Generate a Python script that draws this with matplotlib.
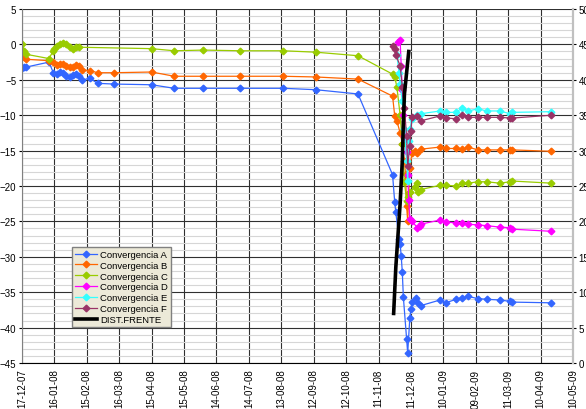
import matplotlib
matplotlib.use('Agg')
import matplotlib.pyplot as plt
from matplotlib.ticker import MultipleLocator
import pandas as pd

plt.rcParams['font.family'] = ['Liberation Sans', 'DejaVu Sans']

# lecturas hasta octubre 2008 (A y B comparten fechas)
early_dates = ['2007-12-17', '2007-12-19', '2007-12-21', '2008-01-11', '2008-01-15',
               '2008-01-18', '2008-01-21', '2008-01-24', '2008-01-27', '2008-01-30',
               '2008-02-02', '2008-02-05', '2008-02-08', '2008-02-11', '2008-02-18',
               '2008-02-25', '2008-03-11', '2008-04-15', '2008-05-06', '2008-06-02',
               '2008-07-06', '2008-08-15', '2008-09-14', '2008-10-23']
early_a = [-3.3, -3.2, -3.2, -2.5, -4.0, -4.2, -3.9, -4.0, -4.4, -4.6, -4.3, -4.2,
           -4.4, -5.0, -4.8, -5.5, -5.6, -5.7, -6.2, -6.2, -6.2, -6.2, -6.4, -7.0]
early_b = [-1.1, -1.8, -2.1, -2.3, -2.5, -2.9, -2.8, -2.8, -3.0, -3.2, -3.2, -2.9,
           -3.1, -3.6, -3.7, -4.0, -4.0, -3.9, -4.5, -4.5, -4.5, -4.5, -4.6, -4.9]

early_dates_c = ['2007-12-17', '2007-12-19', '2007-12-21', '2008-01-11', '2008-01-15',
                 '2008-01-16', '2008-01-18', '2008-01-21', '2008-01-24', '2008-01-27',
                 '2008-01-30', '2008-02-02', '2008-02-05', '2008-02-08', '2008-04-15',
                 '2008-05-06', '2008-06-02', '2008-07-06', '2008-08-15', '2008-09-14',
                 '2008-10-23']
early_c = [0.0, -0.9, -1.4, -2.0, -0.9, -0.6, -0.2, 0.1, 0.2, 0.0, -0.4, -0.7,
           -0.4, -0.4, -0.6, -0.9, -0.8, -0.9, -0.9, -1.1, -1.6]

# paso del frente (nov-dic 2008)
mid_dates_a = ['2008-11-24', '2008-11-26', '2008-11-27', '2008-11-30', '2008-12-01',
               '2008-12-02', '2008-12-03', '2008-12-04', '2008-12-07', '2008-12-08',
               '2008-12-10', '2008-12-11', '2008-12-12', '2008-12-16', '2008-12-18',
               '2008-12-20']
mid_a = [-18.4, -22.3, -23.7, -27.5, -28.2, -29.9, -32.1, -35.7, -41.6, -43.6,
         -38.6, -37.4, -36.4, -35.8, -36.5, -36.9]

mid_dates_b = ['2008-11-24', '2008-11-26', '2008-11-28', '2008-12-01', '2008-12-03',
               '2008-12-05', '2008-12-06', '2008-12-07', '2008-12-08', '2008-12-09',
               '2008-12-10', '2008-12-12', '2008-12-15', '2008-12-17', '2008-12-20']
mid_b = [-7.3, -10.1, -10.8, -12.5, -14.0, -16.5, -18.3, -22.8, -25.0, -21.0,
         -17.5, -15.3, -15.1, -15.3, -14.8]

mid_dates_c = ['2008-11-24', '2008-11-26', '2008-11-28', '2008-12-01', '2008-12-03',
               '2008-12-05', '2008-12-07', '2008-12-08', '2008-12-10', '2008-12-15',
               '2008-12-17', '2008-12-18', '2008-12-20']
mid_c = [-4.2, -4.6, -6.0, -10.0, -14.0, -19.5, -22.1, -21.5, -20.8, -20.2,
         -19.6, -20.9, -20.5]

mid_dates_d = ['2008-11-29', '2008-12-01', '2008-12-02', '2008-12-03', '2008-12-04',
               '2008-12-05', '2008-12-07', '2008-12-08', '2008-12-09', '2008-12-10',
               '2008-12-12', '2008-12-17', '2008-12-19', '2008-12-20']
mid_d = [0.3, 0.6, -3.0, -6.5, -10.0, -13.0, -15.2, -18.4, -22.0, -24.7,
         -25.0, -25.9, -25.6, -25.4]

mid_dates_e = ['2008-11-28', '2008-11-30', '2008-12-01', '2008-12-03', '2008-12-05',
               '2008-12-07', '2008-12-08', '2008-12-09', '2008-12-10', '2008-12-12',
               '2008-12-17', '2008-12-20']
mid_e = [-1.5, -4.0, -5.6, -8.0, -12.0, -16.5, -19.3, -13.6, -12.0, -10.5,
         -10.0, -9.8]

mid_dates_f = ['2008-11-24', '2008-11-26', '2008-11-27', '2008-12-01', '2008-12-03',
               '2008-12-05', '2008-12-07', '2008-12-08', '2008-12-10', '2008-12-11',
               '2008-12-12', '2008-12-17', '2008-12-20']
mid_f = [-0.2, -0.7, -1.5, -3.0, -6.0, -9.0, -13.0, -17.2, -14.3, -12.2,
         -10.3, -10.1, -10.8]

# lecturas 2009 (todas las secciones)
late_dates = ['2009-01-07', '2009-01-12', '2009-01-22', '2009-01-27', '2009-02-02',
              '2009-02-11', '2009-02-19', '2009-03-03', '2009-03-13', '2009-03-15',
              '2009-04-20']
late_a = [-36.1, -36.5, -36.0, -35.8, -35.6, -35.9, -36.0, -36.1, -36.3, -36.4, -36.5]
late_b = [-14.5, -14.7, -14.7, -14.8, -14.5, -14.9, -14.9, -14.9, -14.9, -14.9, -15.1]
late_c = [-19.9, -19.9, -20.0, -19.6, -19.6, -19.4, -19.4, -19.6, -19.4, -19.3, -19.6]
late_d = [-24.8, -25.1, -25.2, -25.2, -25.4, -25.5, -25.6, -25.8, -25.9, -26.1, -26.4]
late_e = [-9.4, -9.6, -9.6, -9.0, -9.4, -9.1, -9.4, -9.4, -9.8, -9.6, -9.5]
late_f = [-10.1, -10.4, -10.5, -10.0, -10.3, -10.3, -10.3, -10.3, -10.4, -10.4, -10.0]

# distancia al frente (eje derecho)
frente_dates = ['2008-11-25', '2008-11-27', '2008-11-29', '2008-12-01', '2008-12-03',
                '2008-12-04', '2008-12-05', '2008-12-07', '2008-12-09']
frente = [7.0, 13.5, 18.0, 22.5, 28.5, 34.0, 38.0, 41.0, 44.0]

series = [
    ('Convergencia A', '#3366ff', early_dates + mid_dates_a + late_dates, early_a + mid_a + late_a),
    ('Convergencia B', '#ff6600', early_dates + mid_dates_b + late_dates, early_b + mid_b + late_b),
    ('Convergencia C', '#99cc00', early_dates_c + mid_dates_c + late_dates, early_c + mid_c + late_c),
    ('Convergencia D', '#ff00ff', mid_dates_d + late_dates, mid_d + late_d),
    ('Convergencia E', '#33ffff', mid_dates_e + late_dates, mid_e + late_e),
    ('Convergencia F', '#993366', mid_dates_f + late_dates, mid_f + late_f),
]

fig = plt.figure(figsize=(5.86, 4.10), dpi=100)
ax = fig.add_axes([0.0375, 0.1122, 0.9403, 0.8634])

handles = []
for name, col, d, v in series:
    h, = ax.plot(pd.to_datetime(d), v, color=col, lw=0.9, marker='D', ms=3.4,
                 mec=col, mfc=col, label=name)
    handles.append(h)

ticks = pd.date_range('2007-12-17', '2009-05-10', freq='30D')
ax.set_xlim(ticks[0], ticks[-1])
ax.set_xticks(ticks)
ax.set_xticklabels([t.strftime('%d-%m-%y') for t in ticks], rotation=90)

ax.set_ylim(-45, 5)
ax.yaxis.set_major_locator(MultipleLocator(5))
ax.yaxis.set_minor_locator(MultipleLocator(1))
ax.yaxis.grid(True, which='minor', color='#d6d6d6', lw=0.8)
ax.yaxis.grid(True, which='major', color='#303030', lw=0.8)
ax.xaxis.grid(True, which='major', color='#303030', lw=0.8)
ax.set_axisbelow(True)
ax.tick_params(which='major', labelsize=7, length=2, pad=2, direction='out')
ax.tick_params(axis='y', which='minor', length=0)
ax.tick_params(axis='x', length=0, pad=4)

ax.spines['top'].set_visible(False)
ax.spines['right'].set_visible(False)
ax.spines['left'].set_color('#808080')
ax.spines['bottom'].set_color('#000000')

ax2 = ax.twinx()
h, = ax2.plot(pd.to_datetime(frente_dates), frente, color='black', lw=2.6,
              label='DIST.FRENTE')
handles.append(h)
ax2.set_ylim(0, 50)
ax2.yaxis.set_major_locator(MultipleLocator(5))
ax2.tick_params(labelsize=7, length=2, pad=2)
ax2.spines['top'].set_visible(False)
ax2.spines['left'].set_visible(False)
ax2.spines['bottom'].set_visible(False)
ax2.spines['right'].set_color('#c0c0c0')
ax2.spines['right'].set_linewidth(1.6)

ax2.legend(handles=handles, loc='lower left', bbox_to_anchor=(0.0907, 0.1017),
           fontsize=6.8, fancybox=False, facecolor='#ece9d8', edgecolor='#808080',
           framealpha=1, handlelength=2.4, labelspacing=0.2, borderpad=0.3,
           handletextpad=0.3, borderaxespad=0, numpoints=1)

fig.savefig('out.png', dpi=100)
